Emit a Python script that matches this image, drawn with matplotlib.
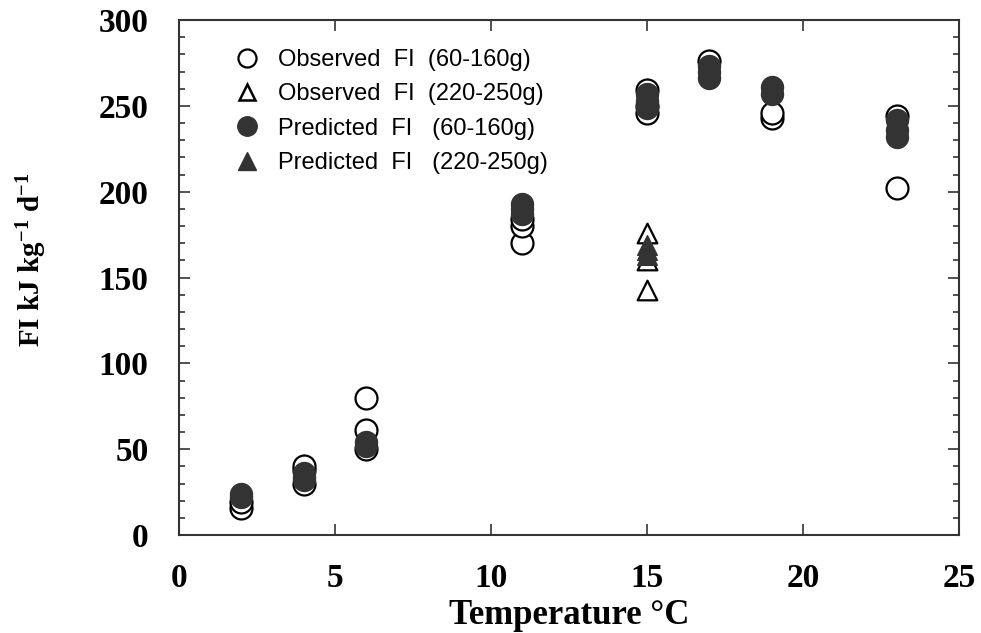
import matplotlib.pyplot as plt
from matplotlib.ticker import MultipleLocator
from matplotlib.lines import Line2D

# observed / predicted feed intake (kJ kg-1 d-1) against temperature
obs_small_t = [2, 2, 4, 4, 4, 6, 6, 6, 11, 11, 11, 15, 15, 15, 17, 19, 19, 23, 23]
obs_small_fi = [16, 19, 30, 38, 40, 50, 61, 80, 170, 180, 184, 246, 250, 259, 276, 243, 246, 202, 244]

obs_big_t = [15, 15, 15]
obs_big_fi = [143, 160, 176]

pred_small_t = [2, 2, 4, 4, 4, 6, 6, 11, 11, 11, 15, 15, 15, 17, 17, 17, 19, 19, 23, 23, 23]
pred_small_fi = [22, 24, 32, 34, 36, 52, 54, 187, 190, 193, 249, 253, 257, 266, 270, 273, 257, 261, 232, 236, 242]

pred_big_t = [15, 15, 15]
pred_big_fi = [163, 166, 169]

labels = ['Observed  FI  (60-160g)', 'Observed  FI  (220-250g)',
          'Predicted  FI   (60-160g)', 'Predicted  FI   (220-250g)']

dark = '#333333'

plt.rcParams['mathtext.fontset'] = 'custom'
plt.rcParams['mathtext.rm'] = 'Liberation Serif:bold'
plt.rcParams['mathtext.bf'] = 'Liberation Serif:bold'
plt.rcParams['mathtext.it'] = 'Liberation Serif:bold'

fig = plt.figure(figsize=(9.81, 6.33), dpi=100)
ax = fig.add_axes([0.1825, 0.1548, 0.795, 0.8136])

ax.scatter(obs_small_t, obs_small_fi, s=250, marker='o', facecolor='white',
           edgecolor='black', linewidth=1.6, zorder=3)
ax.scatter(pred_small_t, pred_small_fi, s=250, marker='o', facecolor=dark,
           edgecolor=dark, linewidth=1.0, zorder=4)
ax.scatter(obs_big_t, obs_big_fi, s=200, marker='^', facecolor='white',
           edgecolor='black', linewidth=1.6, zorder=3)
ax.scatter(pred_big_t, pred_big_fi, s=200, marker='^', facecolor=dark,
           edgecolor=dark, linewidth=1.0, zorder=4)

ax.set_xlim(0, 25)
ax.set_ylim(0, 300)
ax.xaxis.set_major_locator(MultipleLocator(5))
ax.yaxis.set_major_locator(MultipleLocator(50))
ax.yaxis.set_minor_locator(MultipleLocator(10))

ax.tick_params(which='both', direction='in', top=True, right=True,
               width=1.2, color='#333333')
ax.tick_params(which='major', length=8)
ax.tick_params(axis='x', which='major', pad=20)
ax.tick_params(axis='y', which='major', pad=22)
ax.tick_params(which='minor', length=4)
for sp in ax.spines.values():
    sp.set_linewidth(1.5)
    sp.set_color('#333333')

for lab in ax.get_xticklabels() + ax.get_yticklabels():
    lab.set_fontfamily('Liberation Serif')
    lab.set_fontweight('bold')
    lab.set_fontsize(24)

ax.set_xlabel('Temperature °C', family='Liberation Serif', weight='bold',
              size=25, labelpad=4)
ax.set_ylabel(r'FI kJ kg$^{\rm{-1}}$ d$^{\rm{-1}}$', family='Liberation Serif',
              weight='bold', size=21)
ax.yaxis.set_label_coords(-0.167, 0.534)

handles = [
    Line2D([], [], ls='', marker='o', ms=13, mfc='white', mec='black', mew=1.6),
    Line2D([], [], ls='', marker='^', ms=12, mfc='white', mec='black', mew=1.8),
    Line2D([], [], ls='', marker='o', ms=14, mfc=dark, mec=dark),
    Line2D([], [], ls='', marker='^', ms=13, mfc=dark, mec=dark),
]
ax.legend(handles, labels, loc='upper left', bbox_to_anchor=(0.045, 0.985),
          frameon=False, prop={'family': 'Liberation Sans', 'size': 17},
          handletextpad=0.8, labelspacing=0.52, handlelength=1.0)

fig.savefig('out.png', dpi=100)
